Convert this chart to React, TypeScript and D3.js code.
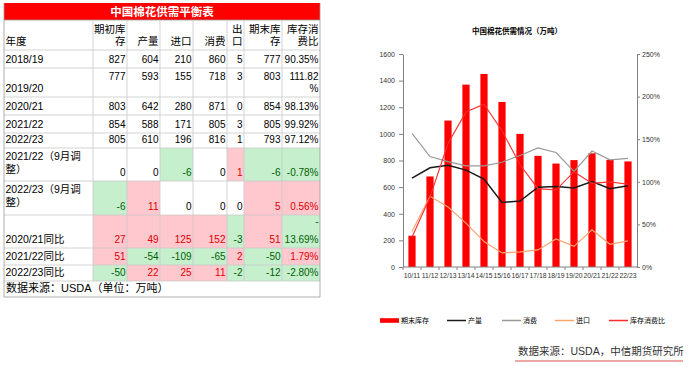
import React, { useEffect, useRef } from 'react';
import * as d3 from 'd3';

// chart data (万吨 / %)
const seasons = ['10/11', '11/12', '12/13', '13/14', '14/15', '15/16', '16/17', '17/18', '18/19', '19/20', '20/21', '21/22', '22/23'];
const endingStocks = [235, 680, 1100, 1370, 1450, 1240, 1000, 835, 777, 803, 854, 805, 793];
const production = [667, 745, 765, 728, 660, 485, 495, 599, 604, 593, 642, 588, 610];
const consumption = [1003, 830, 792, 760, 760, 787, 838, 895, 860, 718, 871, 805, 816];
const imports = [266, 531, 450, 330, 191, 106, 113, 128, 210, 155, 280, 171, 196];
const stockRatio = [35, 82, 145, 182, 191, 160, 120, 92, 90.35, 111.82, 98.13, 99.92, 97.12];

const leftTicks = [0, 200, 400, 600, 800, 1000, 1200, 1400, 1600];
const rightTicks = [0, 50, 100, 150, 200, 250];

// balance table data
const tableHeaders = [['期初库', '存'], ['产量'], ['进口'], ['消费'], ['出', '口'], ['期末库', '存'], ['库存消', '费比']];
const rowLabels = [['2018/19'], ['2019/20'], ['2020/21'], ['2021/22'], ['2022/23'], ['2021/22（9月调', '整）'], ['2022/23（9月调', '整）'], ['2020/21同比'], ['2021/22同比'], ['2022/23同比']];
const beginCol = [827, 777, 803, 854, 805, 0, -6, 27, 51, -50];
const prodCol = [604, 593, 642, 588, 610, 0, 11, 49, -54, 22];
const importCol = [210, 155, 280, 171, 196, -6, 0, 125, -109, 25];
const consCol = [860, 718, 871, 805, 816, 0, 0, 152, -65, 11];
const exportCol = [5, 3, 0, 3, 1, 1, 0, -3, 2, -2];
const endCol = [777, 803, 854, 805, 793, -6, 5, 51, -50, -12];
const ratioCol = ['90.35%', '111.82%', '98.13%', '99.92%', '97.12%', '-0.78%', '0.56%', '-13.69%', '1.79%', '-2.80%'];

const FONT = "'Liberation Sans', 'Noto Sans CJK SC', sans-serif";

const drawTable = (g: any) => {
  const colX = [4, 93, 127, 160, 193, 227, 244, 282, 320];
  const rowY = [20, 50, 68, 97, 115, 133, 148, 181, 215, 248, 265, 281, 297];
  const cols = [beginCol, prodCol, importCol, consCol, exportCol, endCol, ratioCol];

  g.append('rect').attr('x', 4).attr('y', 3).attr('width', 316).attr('height', 17).attr('fill', '#ff0000');
  g.append('text').attr('x', 162).attr('y', 16).attr('text-anchor', 'middle')
    .attr('fill', '#fff').attr('font-weight', 'bold').attr('font-size', 11.5).text('中国棉花供需平衡表');

  // header
  g.append('text').attr('x', 5.5).attr('y', rowY[1] - 5).attr('font-size', 10.5).text('年度');
  tableHeaders.forEach((lines, j) => {
    lines.forEach((t, k) => {
      g.append('text').attr('x', colX[j + 2] - 1.5).attr('y', rowY[1] - 5 - (lines.length - 1 - k) * 12)
        .attr('text-anchor', 'end').attr('font-size', 10.5).text(t);
    });
  });

  rowLabels.forEach((label, i) => {
    const y0 = rowY[i + 1];
    const y1 = rowY[i + 2];
    const topAligned = i === 1;
    cols.forEach((col, j) => {
      const v = col[i];
      const num = typeof v === 'number' ? v : parseFloat(v);
      let fill = 'none';
      let color = '#000';
      if (i >= 5 && num > 0) { fill = '#ffc7ce'; color = '#dd0000'; }
      if (i >= 5 && num < 0) { fill = '#c6efce'; color = '#006100'; }
      const x0 = colX[j + 1];
      const x1 = colX[j + 2];
      if (fill !== 'none') {
        g.append('rect').attr('x', x0).attr('y', y0).attr('width', x1 - x0).attr('height', y1 - y0).attr('fill', fill);
      }
      let lines = [String(v)];
      if (i === 1 && j === 6) lines = ['111.82', '%'];
      if (i === 7 && j === 6) lines = ['-', '13.69%'];
      lines.forEach((t, k) => {
        const yy = topAligned ? y0 + 12 + k * 12 : y1 - 5 - (lines.length - 1 - k) * (i === 7 ? 18 : 12);
        g.append('text').attr('x', x1 - 1.5).attr('y', yy).attr('text-anchor', 'end')
          .attr('font-size', 10).attr('fill', color).text(t);
      });
    });
    label.forEach((t, k) => {
      const yy = label.length > 1 ? y0 + 11.5 + k * 13.5 : y1 - 5;
      g.append('text').attr('x', 5.5).attr('y', yy).attr('font-size', 10.5).text(t);
    });
  });

  // grid
  rowY.forEach((yy, i) => {
    g.append('line').attr('x1', 4).attr('x2', 320).attr('y1', yy).attr('y2', yy)
      .attr('stroke', i === 0 || i === rowY.length - 1 ? '#999' : '#c8c8c8').attr('stroke-width', 0.8);
  });
  colX.forEach((xx, j) => {
    const last = j === 0 || j === colX.length - 1;
    g.append('line').attr('x1', xx).attr('x2', xx).attr('y1', last ? 3 : rowY[0]).attr('y2', last ? rowY[rowY.length - 1] : rowY[rowY.length - 2])
      .attr('stroke', last ? '#999' : '#c8c8c8').attr('stroke-width', 0.8);
  });

  g.append('text').attr('x', 6).attr('y', 292).attr('font-size', 11).text('数据来源：USDA（单位：万吨）');
};

const drawChart = (g: any) => {
  const x = d3.scalePoint<string>().domain(seasons).range([403, 637]).padding(0.5);
  const y = d3.scaleLinear().domain([0, 1600]).range([267, 54]);
  const y2 = d3.scaleLinear().domain([0, 250]).range([267, 54]);
  const step = x.step();
  const bw = step * 0.4;

  g.append('text').attr('x', 517).attr('y', 34).attr('text-anchor', 'middle')
    .attr('font-size', 7.5).attr('font-weight', 'bold').text('中国棉花供需情况（万吨）');

  g.selectAll('rect.bar').data(endingStocks).enter().append('rect')
    .attr('x', (d: number, i: number) => (x(seasons[i]) as number) - bw / 2)
    .attr('y', (d: number) => y(d))
    .attr('width', bw)
    .attr('height', (d: number) => y(0) - y(d))
    .attr('fill', '#ff0000');

  const series = [
    { vals: consumption, color: '#999999', w: 1.2, sc: y },
    { vals: production, color: '#1a1a1a', w: 1.5, sc: y },
    { vals: imports, color: '#f9a46e', w: 1.2, sc: y },
    { vals: stockRatio, color: '#ff2a2a', w: 1.1, sc: y2 },
  ];
  series.forEach(s => {
    const line = d3.line<number>()
      .x((d, i) => x(seasons[i]) as number)
      .y(d => s.sc(d));
    g.append('path').datum(s.vals).attr('fill', 'none').attr('stroke', s.color)
      .attr('stroke-width', s.w).attr('d', line);
  });

  const left = g.append('g').attr('transform', 'translate(403,0)')
    .call(d3.axisLeft(y).tickValues(leftTicks).tickFormat(d3.format('d')).tickSize(4).tickSizeOuter(0).tickPadding(4));
  const right = g.append('g').attr('transform', 'translate(637,0)')
    .call(d3.axisRight(y2).tickValues(rightTicks).tickFormat((d: any) => d + '%').tickSize(3).tickSizeOuter(0).tickPadding(2));
  [left, right].forEach(a => {
    a.select('.domain').attr('stroke', '#808080');
    a.selectAll('.tick line').attr('stroke', '#808080');
    a.selectAll('text').attr('font-size', 7).attr('fill', '#333').attr('font-family', FONT);
  });

  // category axis
  g.append('line').attr('x1', 403).attr('x2', 637).attr('y1', 267).attr('y2', 267).attr('stroke', '#808080');
  seasons.forEach((s, i) => {
    const bx = (x(s) as number) - step / 2;
    g.append('line').attr('x1', bx).attr('x2', bx).attr('y1', 267).attr('y2', 270).attr('stroke', '#808080');
    g.append('text').attr('x', x(s)).attr('y', 278).attr('text-anchor', 'middle')
      .attr('font-size', 6.8).attr('fill', '#333').text(s);
  });

  // legend
  const ly = 320.5;
  g.append('rect').attr('x', 380).attr('y', ly - 2.3).attr('width', 19).attr('height', 4.6).attr('fill', '#ff0000');
  g.append('text').attr('x', 401).attr('y', ly + 2.5).attr('font-size', 7).text('期末库存');
  const legendLines = [
    { x0: 447, color: '#1a1a1a', label: '产量' },
    { x0: 502, color: '#999999', label: '消费' },
    { x0: 555, color: '#f9a46e', label: '进口' },
    { x0: 609, color: '#ff2a2a', label: '库存消费比' },
  ];
  legendLines.forEach(l => {
    g.append('line').attr('x1', l.x0).attr('x2', l.x0 + 19).attr('y1', ly).attr('y2', ly)
      .attr('stroke', l.color).attr('stroke-width', 1.5);
    g.append('text').attr('x', l.x0 + 21).attr('y', ly + 2.5).attr('font-size', 7).text(l.label);
  });

  g.append('text').attr('x', 518).attr('y', 355).attr('font-size', 10.5).attr('fill', '#333')
    .text('数据来源：USDA，中信期货研究所');
  g.append('line').attr('x1', 515).attr('x2', 683).attr('y1', 361).attr('y2', 361)
    .attr('stroke', '#d9534f').attr('stroke-width', 1.2);
};

const App = () => {
  const svgRef = useRef<SVGSVGElement>(null);

  useEffect(() => {
    const svg = d3.select(svgRef.current);
    svg.selectAll('*').remove();
    drawTable(svg.append('g'));
    drawChart(svg.append('g'));
  }, []);

  return (
    <svg
      ref={svgRef}
      width={689}
      height={366}
      style={{ position: 'absolute', left: 0, top: 0, background: '#fff', fontFamily: FONT }}
    />
  );
};

export default App;
